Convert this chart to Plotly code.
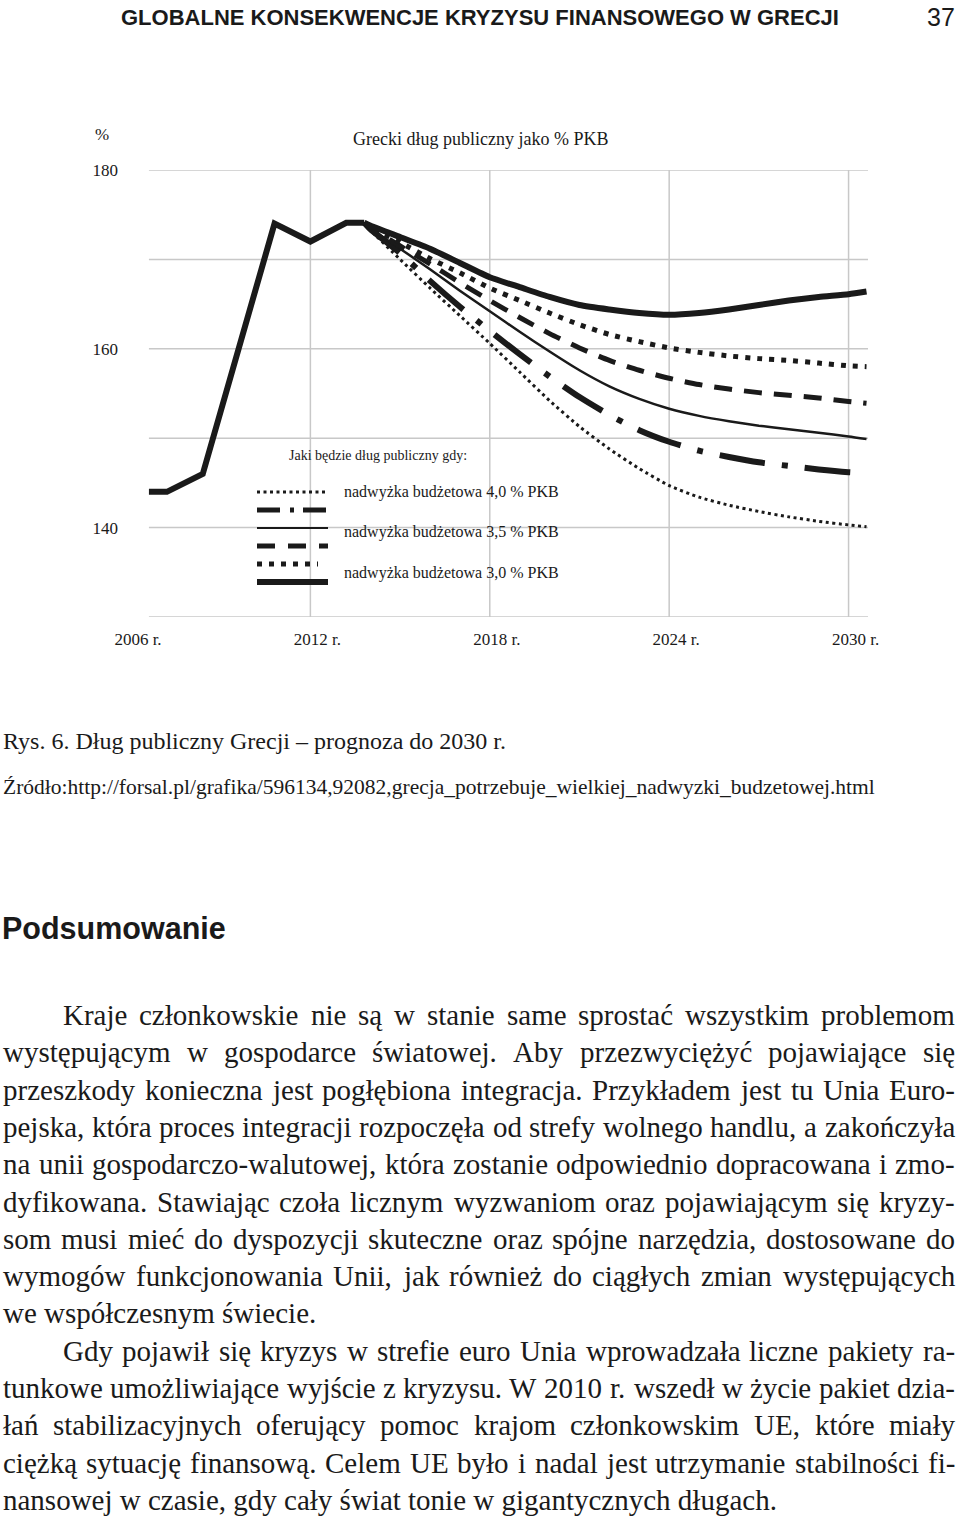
import plotly.graph_objects as go

# ------------------------------------------------------------------ data
hist_years = [2006.6, 2007.2, 2008.4, 2010.8, 2012.0, 2013.2, 2013.8]
hist_debt = [144.0, 144.0, 146.0, 174.0, 172.0, 174.1, 174.1]

proj_years = [2013.8, 2014, 2015, 2016, 2017, 2018, 2019, 2020, 2021, 2022,
              2023, 2024, 2025, 2026, 2027, 2028, 2029, 2030, 2030.6]

s30_solid = [174.1, 173.8, 172.5, 171.2, 169.6, 168.0, 166.9, 165.8, 164.9, 164.4,
             164.0, 163.8, 164.0, 164.4, 164.9, 165.4, 165.8, 166.1, 166.4]
s30_dots = [174.1, 173.6, 171.9, 170.1, 168.5, 166.8, 165.4, 164.0, 162.7, 161.6,
            160.8, 160.1, 159.6, 159.2, 158.9, 158.7, 158.4, 158.1, 158.0]
s35_dash = [174.1, 173.6, 171.5, 169.5, 167.4, 165.4, 163.5, 161.7, 160.1, 158.7,
            157.6, 156.7, 156.0, 155.5, 155.1, 154.8, 154.5, 154.1, 153.9]
s35_solid = [174.1, 173.5, 171.2, 168.9, 166.5, 164.2, 161.9, 159.7, 157.6, 155.8,
             154.4, 153.3, 152.5, 151.9, 151.4, 151.0, 150.6, 150.2, 149.9]
s40_dashdot = [174.1, 173.4, 170.7, 167.6, 164.7, 162.0, 159.4, 156.9, 154.6, 152.6,
               150.9, 149.6, 148.6, 147.9, 147.3, 146.9, 146.5, 146.2, 146.1]
s40_dotted = [174.1, 173.3, 170.0, 166.8, 163.7, 160.6, 157.4, 154.2, 151.3, 148.8,
              146.6, 144.7, 143.4, 142.5, 141.8, 141.2, 140.7, 140.3, 140.1]

x_tick_years = [2006, 2012, 2018, 2024, 2030]
x_tick_labels = ["2006 r.", "2012 r.", "2018 r.", "2024 r.", "2030 r."]
y_tick_values = [140, 160, 180]
y_tick_labels = ["140", "160", "180"]
grid_levels = [130, 140, 150, 160, 170, 180]
grid_years = [2012, 2018, 2024, 2030]

chart_title = "Grecki dług publiczny jako % PKB"
legend_title = "Jaki będzie dług publiczny gdy:"
legend_labels = ["nadwyżka budżetowa 4,0 % PKB",
                 "nadwyżka budżetowa 3,5 % PKB",
                 "nadwyżka budżetowa 3,0 % PKB"]

header_text = "GLOBALNE KONSEKWENCJE KRYZYSU FINANSOWEGO W GRECJI"
page_number = "37"
caption_text = "Rys. 6. Dług publiczny Grecji – prognoza do 2030 r."
source_text = "Źródło:http://forsal.pl/grafika/596134,92082,grecja_potrzebuje_wielkiej_nadwyzki_budzetowej.html"
section_title = "Podsumowanie"

para1_lines = [
    "Kraje członkowskie nie są w stanie same sprostać wszystkim problemom",
    "występującym w gospodarce światowej. Aby przezwyciężyć pojawiające się",
    "przeszkody konieczna jest pogłębiona integracja. Przykładem jest tu Unia Euro-",
    "pejska, która proces integracji rozpoczęła od strefy wolnego handlu, a zakończyła",
    "na unii gospodarczo-walutowej, która zostanie odpowiednio dopracowana i zmo-",
    "dyfikowana. Stawiając czoła licznym wyzwaniom oraz pojawiającym się kryzy-",
    "som musi mieć do dyspozycji skuteczne oraz spójne narzędzia, dostosowane do",
    "wymogów funkcjonowania Unii, jak również do ciągłych zmian występujących",
    "we współczesnym świecie.",
]
para2_lines = [
    "Gdy pojawił się kryzys w strefie euro Unia wprowadzała liczne pakiety ra-",
    "tunkowe umożliwiające wyjście z kryzysu. W 2010 r. wszedł w życie pakiet dzia-",
    "łań stabilizacyjnych oferujący pomoc krajom członkowskim UE, które miały",
    "ciężką sytuację finansową. Celem UE było i nadal jest utrzymanie stabilności fi-",
    "nansowej w czasie, gdy cały świat tonie w gigantycznych długach.",
]

# ------------------------------------------------------------------ layout helpers
W, H = 960, 1520
SERIF = "Liberation Serif, Times New Roman, serif"
SANS = "Liberation Sans, Arial, sans-serif"
BLACK = "#1a1a1a"
GRID = "#c8c8c8"

X_RANGE = [2005.9, 2030.65]
Y_RANGE = [130, 180]
PLOT_L, PLOT_R, PLOT_T, PLOT_B = 128, 868, 170, 617


def px(x):
    return x / W


def py(y):
    return 1 - y / H


CW = {' ': 250, ',': 250, '.': 250, '-': 333, ':': 278, ';': 278, '–': 500, '%': 833,
      '/': 278, '_': 500, '(': 333, ')': 333}
for ch, w in zip("abcdefghijklmnopqrstuvwxyz",
                 [444, 500, 444, 500, 444, 333, 500, 500, 278, 278, 500, 278, 778,
                  500, 500, 500, 500, 333, 389, 278, 500, 500, 722, 500, 500, 444]):
    CW[ch] = w
for ch, w in zip("ABCDEFGHIJKLMNOPQRSTUVWXYZ",
                 [722, 667, 667, 722, 611, 556, 722, 722, 333, 389, 722, 611, 889,
                  722, 722, 556, 722, 667, 556, 611, 722, 722, 944, 722, 722, 611]):
    CW[ch] = w
for ch in "0123456789":
    CW[ch] = 500
CW.update({'ą': 444, 'ć': 444, 'ę': 444, 'ł': 278, 'ń': 500, 'ó': 500, 'ś': 389,
           'ź': 444, 'ż': 444, 'Ł': 611, 'Ś': 556, 'Ź': 611, 'Ż': 611})


def units(s):
    return sum(CW.get(c, 500) for c in s)


annotations = []


def ann(text, x, y, size, family=SERIF, xanchor="left", yanchor="middle", color=BLACK):
    annotations.append(dict(text=text, x=px(x), y=py(y), xref="paper", yref="paper",
                            xanchor=xanchor, yanchor=yanchor, showarrow=False,
                            borderpad=0, borderwidth=0,
                            font=dict(family=family, size=size, color=color)))


fig = go.Figure()

proj_styles = [
    (s40_dotted, dict(width=3, dash="3px,3.5px")),
    (s40_dashdot, dict(width=6, dash="46px,17px,6px,17px")),
    (s35_solid, dict(width=2.5)),
    (s35_dash, dict(width=5, dash="18px,12px")),
    (s30_dots, dict(width=5, dash="5px,7px")),
    (s30_solid, dict(width=6)),
]
for vals, ln in proj_styles:
    fig.add_trace(go.Scatter(x=proj_years, y=vals, mode="lines",
                             line=dict(color=BLACK, shape="spline", smoothing=0.6, **ln),
                             showlegend=False, hoverinfo="skip"))

fig.add_trace(go.Scatter(x=hist_years, y=hist_debt, mode="lines",
                         line=dict(color=BLACK, width=6), showlegend=False,
                         hoverinfo="skip"))

shapes = []
for lv in grid_levels:
    shapes.append(dict(type="line", xref="x", yref="y", x0=hist_years[0], x1=X_RANGE[1],
                       y0=lv, y1=lv, line=dict(color=GRID, width=1.5), layer="below"))
for gy in grid_years:
    shapes.append(dict(type="line", xref="x", yref="y", x0=gy, x1=gy,
                       y0=Y_RANGE[0], y1=Y_RANGE[1], line=dict(color=GRID, width=1.5),
                       layer="below"))

LEG_X0, LEG_X1 = 257, 328
legend_samples = [
    (492, dict(width=3, dash="3px,3.5px"), LEG_X1),
    (510, dict(width=5, dash="23px,10px,4px,9px"), 326),
    (528, dict(width=2), LEG_X1),
    (546, dict(width=5, dash="18px,13px"), 328),
    (564, dict(width=5, dash="5px,7px"), 318),
    (582, dict(width=6), LEG_X1),
]
for yy, ln, x1 in legend_samples:
    shapes.append(dict(type="line", xref="paper", yref="paper", x0=px(LEG_X0), x1=px(x1),
                       y0=py(yy), y1=py(yy), line=dict(color=BLACK, **ln)))

ann("%", 102, 135, 17, xanchor="center")
ann(chart_title, 480, 139, 18, xanchor="center")
ann(legend_title, 378, 455, 14, xanchor="center")
for lab, yy in zip(legend_labels, [492, 532, 573]):
    ann(lab, 344, yy, 16)

ann("<b>" + header_text + "</b>", 480, 17, 22, family=SANS, xanchor="center")
ann(page_number, 955, 17, 25, family=SANS, xanchor="right")
ann(caption_text, 3, 741, 24)
ann(source_text, 3, 787, 21.5)
ann("<b>" + section_title + "</b>", 2, 928, 30.5, family=SANS)

LEFT, RIGHT, INDENT = 3, 955, 60
LINE0, LEAD = 1015, 37.3
lines = []
for para in (para1_lines, para2_lines):
    for i, t in enumerate(para):
        lines.append((t, i == 0, i == len(para) - 1))

size = 29.0
for t, first, last in lines:
    if last:
        continue
    words = t.split(" ")
    avail = RIGHT - LEFT - (INDENT if first else 0)
    need = sum(units(w) for w in words) + (len(words) - 1) * 190
    size = min(size, avail * 1000.0 / need)

for k, (t, first, last) in enumerate(lines):
    y = LINE0 + LEAD * k
    x0 = LEFT + (INDENT if first else 0)
    if last:
        ann(t, x0, y, size)
        continue
    words = t.split(" ")
    widths = [units(w) * size / 1000.0 for w in words]
    gap = (RIGHT - x0 - sum(widths)) / (len(words) - 1)
    x = x0
    for w, wd in zip(words, widths):
        ann(w, x, y, size)
        x += wd + gap

fig.update_layout(
    width=W, height=H, autosize=False,
    margin=dict(l=0, r=0, t=0, b=0, pad=0, autoexpand=False),
    paper_bgcolor="white", plot_bgcolor="white", showlegend=False,
    shapes=shapes, annotations=annotations,
    xaxis=dict(range=X_RANGE, domain=[px(PLOT_L), px(PLOT_R)], showgrid=False,
               zeroline=False, showline=False, ticks="", automargin=False,
               tickvals=x_tick_years, ticktext=x_tick_labels,
               tickfont=dict(family=SERIF, size=17, color=BLACK),
               ticklabelshift=7, ticklabelstandoff=10, fixedrange=True),
    yaxis=dict(range=Y_RANGE, domain=[py(PLOT_B), py(PLOT_T)], showgrid=False,
               zeroline=False, showline=False, ticks="", automargin=False,
               tickvals=y_tick_values, ticktext=y_tick_labels,
               tickfont=dict(family=SERIF, size=17, color=BLACK),
               ticklabelstandoff=9, fixedrange=True),
)

fig.write_html("out.html")
